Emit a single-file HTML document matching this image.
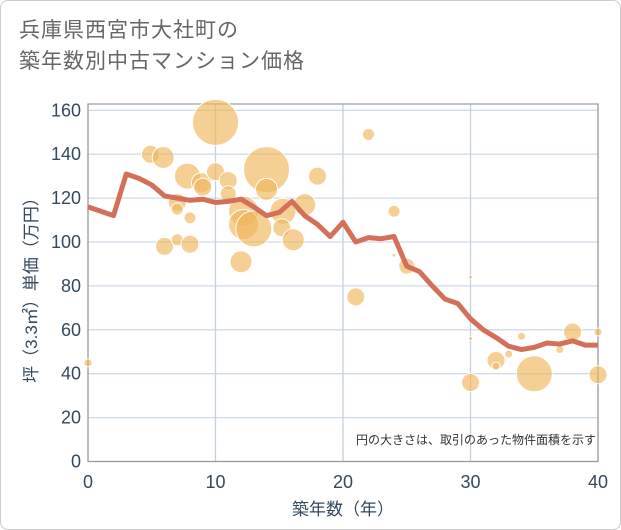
<!DOCTYPE html>
<html><head><meta charset="utf-8"><style>
body{margin:0;background:#fff;}
#wrap{position:relative;width:619px;height:528px;border:1px solid #ccc;border-radius:8px;overflow:hidden;font-family:"Liberation Sans","Noto Sans CJK JP",sans-serif;}
#title{position:absolute;left:18px;top:14px;font-size:21px;line-height:31px;color:#666;letter-spacing:1px;}
</style></head><body>
<div id="wrap">
<div id="title">兵庫県西宮市大社町の<br>築年数別中古マンション価格</div>
<svg id="chart" width="619" height="528" style="position:absolute;left:0;top:0"></svg>
</div>
<script>
const lineYears=[0,1,2,3,4,5,6,7,8,9,10,11,12,13,14,15,16,17,18,19,20,21,22,23,24,25,26,27,28,29,30,31,32,33,34,35,36,37,38,39,40];
const lineValues=[116,114,112,131,129,126,121,120,119,119.5,118,118.5,119.5,116,112,113.5,118.5,112,108,102.5,109,100,102,101.5,102.5,89,86.5,80,74,72,65,60,56.5,52.5,51,52,54,53.5,55,53,53];
const bubbleYears=[0,4.9,5.9,10,7.8,8.9,10,11,11,14,14,18,17,15.3,7,7,12.2,12.2,13,15.2,16.1,8,6,7,8,12,9,22,24,24,25,21,30,30,30,32,32,33,34,35,37,38,40,40];
const bubbleValues=[45,140,138.5,154.5,130,127,132,128,122,133,124,130,117,114,118,115,114,108,106,106.5,101,111,98,101,99,91,125,149,114,94,89,75,84,56,36,46,43.5,49,57,40,51,59,59,39.5];
const bubbleSizes=[4,9,11,23,13,10,9,9,8,23,11,9,11,13,9,6,15,15,18,9,11,6,9,6,9,11,9,6,6,2,8,9,2,2,9,9,4,4,4,18,4,9,4,9];
const xTicks=[0,10,20,30,40];
const yTicks=[0,20,40,60,80,100,120,140,160];
const X0=87,X1=597,Y0=460.5,Y1=109.3;
const xs=v=>X0+(v-0)/40*(X1-X0);
const ys=v=>Y0-(v-0)/160*(Y0-Y1);
const NS="http://www.w3.org/2000/svg";
const svg=document.getElementById('chart');
const TC='#34495e';
function mk(t,a){const e=document.createElementNS(NS,t);for(const k in a)e.setAttribute(k,a[k]);svg.appendChild(e);return e;}
let e;
yTicks.forEach(v=>{
 e=mk('line',{x1:X0,x2:X1,y1:ys(v),y2:ys(v),stroke:'#cfdbe8','stroke-width':1.3});
 
 
 e=mk('text',{x:X0-7,y:ys(v)+6,'text-anchor':'end','font-size':18,fill:TC});e.textContent=v;
 
 
});
xTicks.forEach(v=>{
 e=mk('line',{x1:xs(v),x2:xs(v),y1:103,y2:Y0,stroke:'#c2d0df','stroke-width':1.3});
 
 
 e=mk('text',{x:xs(v),y:487,'text-anchor':'middle','font-size':18,fill:TC});e.textContent=v;
 
 
});
e=mk('rect',{x:X0,y:103,width:X1-X0,height:Y0-103,fill:'none',stroke:'#999','stroke-width':1.2});


bubbleYears.forEach((yr,i)=>{
 e=mk('circle',{cx:xs(yr),cy:ys(bubbleValues[i]),r:bubbleSizes[i],fill:'rgba(240,182,90,0.65)',stroke:'#fff','stroke-width':1});
 
 
});
e=mk('polyline',{points:lineYears.map((yr,i)=>xs(yr)+','+ys(lineValues[i])).join(' '),fill:'none',stroke:'#d4705a','stroke-width':5,'stroke-linejoin':'round'});


e=mk('text',{x:595,y:443,'text-anchor':'end','font-size':12,fill:'#333'});e.textContent='円の大きさは、取引のあった物件面積を示す';


e=mk('text',{x:342,y:514,'text-anchor':'middle','font-size':17,fill:TC});e.textContent='築年数（年）';


e=mk('text',{x:0,y:0,'text-anchor':'middle','font-size':17,fill:TC,transform:'translate(36,285) rotate(-90)'});e.textContent='坪（3.3㎡）単価（万円）';


</script>
</body></html>
